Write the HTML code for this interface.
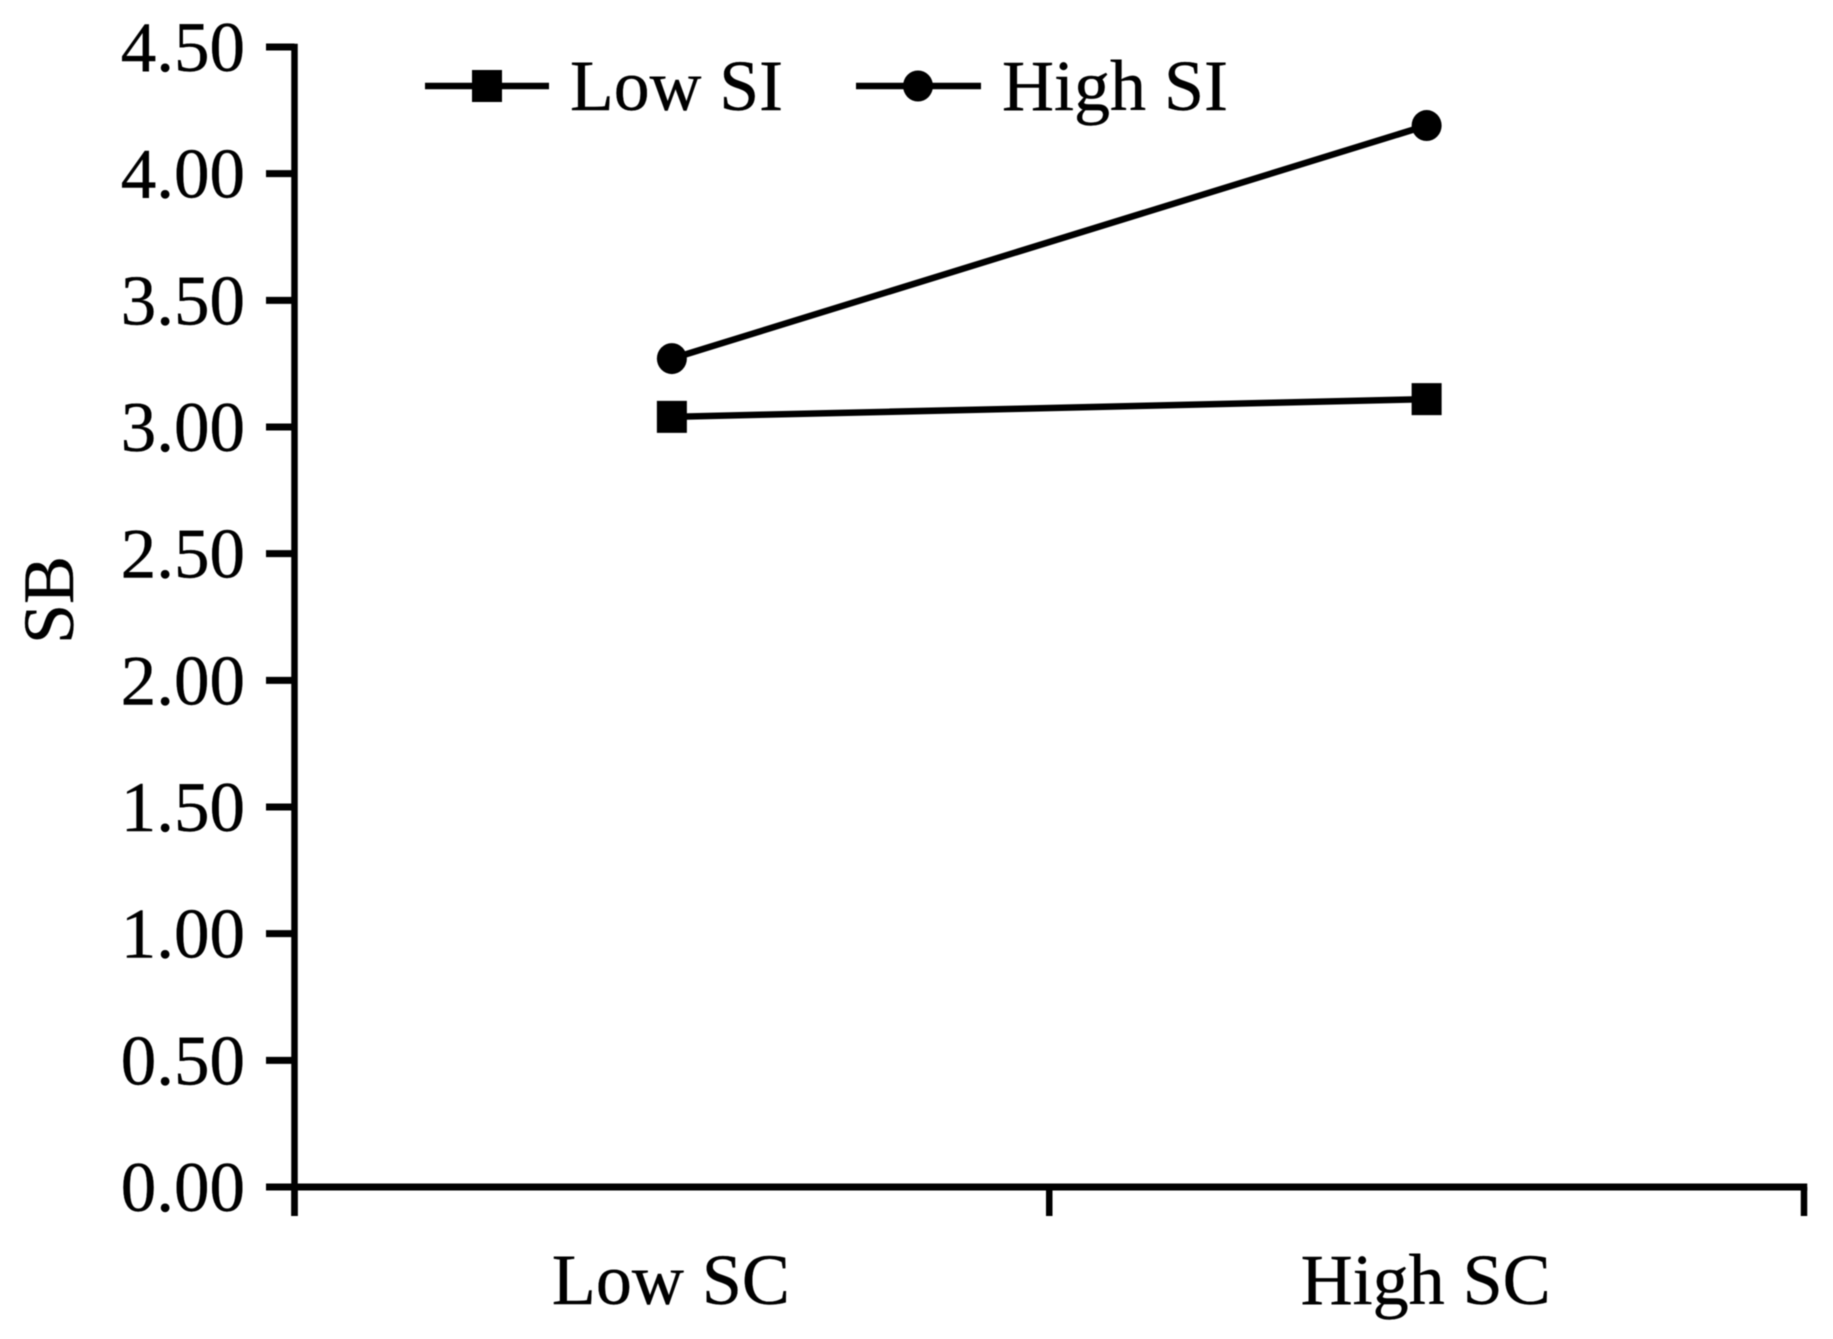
<!DOCTYPE html>
<html lang="en">
<head>
<meta charset="utf-8">
<title>SB by SC and SI</title>
<style>
html,body{margin:0;padding:0;background:#fff;width:1833px;height:1339px;overflow:hidden}
svg{display:block;filter:blur(0.6px)}
text{font-family:"Liberation Serif","Times New Roman",serif;font-size:72px;fill:#000;stroke:#000;stroke-width:0.4px}
</style>
</head>
<body>
<svg id="chart" xmlns="http://www.w3.org/2000/svg" width="1833" height="1339" viewBox="0 0 1833 1339">
<rect x="0" y="0" width="1833" height="1339" fill="#fff"/>
<g id="axes"></g>
<g id="series"></g>
<g id="legend">
<g>
<line x1="425" y1="86" x2="549" y2="86" stroke="#000" stroke-width="6.5"/>
<rect x="472" y="70" width="30" height="32" fill="#000"/>
<text x="570" y="110" textLength="213" lengthAdjust="spacingAndGlyphs">Low SI</text>
</g>
<g>
<line x1="856" y1="86" x2="981" y2="86" stroke="#000" stroke-width="6.5"/>
<ellipse cx="918" cy="86" rx="15" ry="15.5" fill="#000"/>
<text x="1002" y="110" textLength="226" lengthAdjust="spacingAndGlyphs">High SI</text>
</g>
</g>
<text transform="translate(73,600) rotate(-90)" text-anchor="middle">SB</text>
</svg>
<script>
const categories = ["Low SC", "High SC"];
const lowSI = [3.04, 3.11];
const highSI = [3.27, 4.19];
const yTicks = [0, 0.5, 1, 1.5, 2, 2.5, 3, 3.5, 4, 4.5];
const yTickLabels = ["0.00", "0.50", "1.00", "1.50", "2.00", "2.50", "3.00", "3.50", "4.00", "4.50"];

const NS = "http://www.w3.org/2000/svg";
const plotLeft = 294.5, plotRight = 1804, plotBottom = 1187, plotTop = 47, yMax = 4.5;
const axisW = 6.5;

function yScale(v) {
  return plotBottom - (v / yMax) * (plotBottom - plotTop);
}
function xScale(i) {
  return plotLeft + (i + 0.5) * (plotRight - plotLeft) / categories.length;
}
function xEdge(i) {
  return plotLeft + i * (plotRight - plotLeft) / categories.length;
}
function make(tag, attrs, parent) {
  const el = document.createElementNS(NS, tag);
  for (const k in attrs) el.setAttribute(k, attrs[k]);
  parent.appendChild(el);
  return el;
}

const axes = document.getElementById("axes");
const series = document.getElementById("series");

const yAxis = make("line", {x1: plotLeft, y1: plotTop - axisW / 2, x2: plotLeft, y2: 1216, stroke: "#000", "stroke-width": axisW}, axes);



const xAxis = make("line", {x1: plotLeft, y1: plotBottom, x2: plotRight + axisW / 2, y2: plotBottom, stroke: "#000", "stroke-width": axisW + 0.5}, axes);



yTicks.forEach(function (v, i) {
  const y = yScale(v);
  const tick = make("line", {x1: 266, y1: y, x2: plotLeft, y2: y, stroke: "#000", "stroke-width": axisW + 0.5}, axes);
  
  
  const label = make("text", {x: 245, y: y + 24, "text-anchor": "end", style: "font-size:71px"}, axes);
  
  
  label.textContent = yTickLabels[i];
});

for (let i = 0; i <= categories.length; i++) {
  const x = xEdge(i);
  const tick = make("line", {x1: x, y1: plotBottom, x2: x, y2: 1216, stroke: "#000", "stroke-width": axisW}, axes);
  
  
}

categories.forEach(function (c, i) {
  const label = make("text", {x: xScale(i) - 1, y: 1304, "text-anchor": "middle"}, axes);
  
  
  label.textContent = c;
});

function polyPoints(vals) {
  return vals.map(function (v, i) { return xScale(i) + "," + yScale(v); }).join(" ");
}

const lowLine = make("polyline", {points: polyPoints(lowSI), fill: "none", stroke: "#000", "stroke-width": 6.5}, series);



const highLine = make("polyline", {points: polyPoints(highSI), fill: "none", stroke: "#000", "stroke-width": 6.5}, series);



lowSI.forEach(function (v, i) {
  const m = make("rect", {x: xScale(i) - 15, y: yScale(v) - 16, width: 30, height: 32, fill: "#000"}, series);
  
  
});

highSI.forEach(function (v, i) {
  const m = make("ellipse", {cx: xScale(i), cy: yScale(v), rx: 15, ry: 15.5, fill: "#000"}, series);
  
  
});
</script>
</body>
</html>
